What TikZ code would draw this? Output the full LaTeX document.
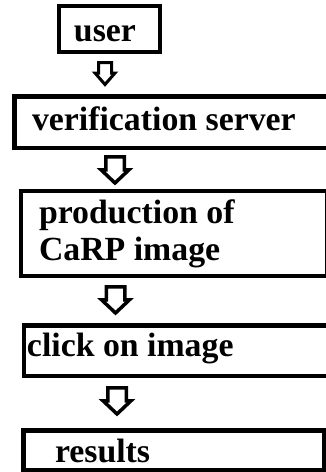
\documentclass[tikz,border=0pt]{standalone}
\usepackage{fontspec}
\setmainfont{Liberation Serif}
\begin{document}
\begin{tikzpicture}[x=1pt,y=-1pt,
  boxline/.style={draw=black, line width=4.5pt, inner sep=0pt, outer sep=0pt, anchor=north west},
  lbl/.style={font=\fontsize{33.8}{37}\selectfont\bfseries, inner sep=0pt, outer sep=0pt, anchor=base west, align=left, text=black},
  smallarrow/.pic={\draw[line width=3pt, fill=white] (-6.5,1.5) -- (6.5,1.5) -- (6.5,12) -- (10,12) -- (0,23.5) -- (-10,12) -- (-6.5,12) -- cycle;},
  bigarrow/.pic={\draw[line width=3.5pt, fill=white] (-9.25,1.75) -- (9.25,1.75) -- (9.25,14.75) -- (14,14.75) -- (0,28) -- (-14,14.75) -- (-9.25,14.75) -- cycle;}
]
\useasboundingbox (0,0) rectangle (326,472);
\clip (0,0) rectangle (326,472);
\fill[white] (0,0) rectangle (326,472);

% boxes
\node[boxline, minimum width=101pt, minimum height=46pt] (b1) at (59,6) {};
\node[boxline, minimum width=340pt, minimum height=51.5pt] (b2) at (14.25,96.25) {};
\node[boxline, minimum width=306.5pt, minimum height=85pt] (b3) at (21,191) {};
\node[boxline, minimum width=330pt, minimum height=50.5pt] (b4) at (24,325.25) {};
\node[boxline, minimum width=301pt, minimum height=40pt] (b5) at (23.25,430.25) {};

% texts (multi-line node: base anchor is the last line)
\node[lbl] (t1) at (74,41) {user};
\node[lbl] (t2) at (32,130) {verification server};
\node[lbl] (t3) at (39,260) {production of\\CaRP image};
\node[lbl] (t4) at (27,356) {click on image};
\node[lbl] (t5) at (55,462) {results};

% block arrows
\coordinate (a1) at (105,61);
\coordinate (a2) at (115,155);
\coordinate (a3) at (115.5,285);
\coordinate (a4) at (117,386);
\pic at (a1) {smallarrow};
\pic at (a2) {bigarrow};
\pic at (a3) {bigarrow};
\pic at (a4) {bigarrow};
\end{tikzpicture}
\end{document}
